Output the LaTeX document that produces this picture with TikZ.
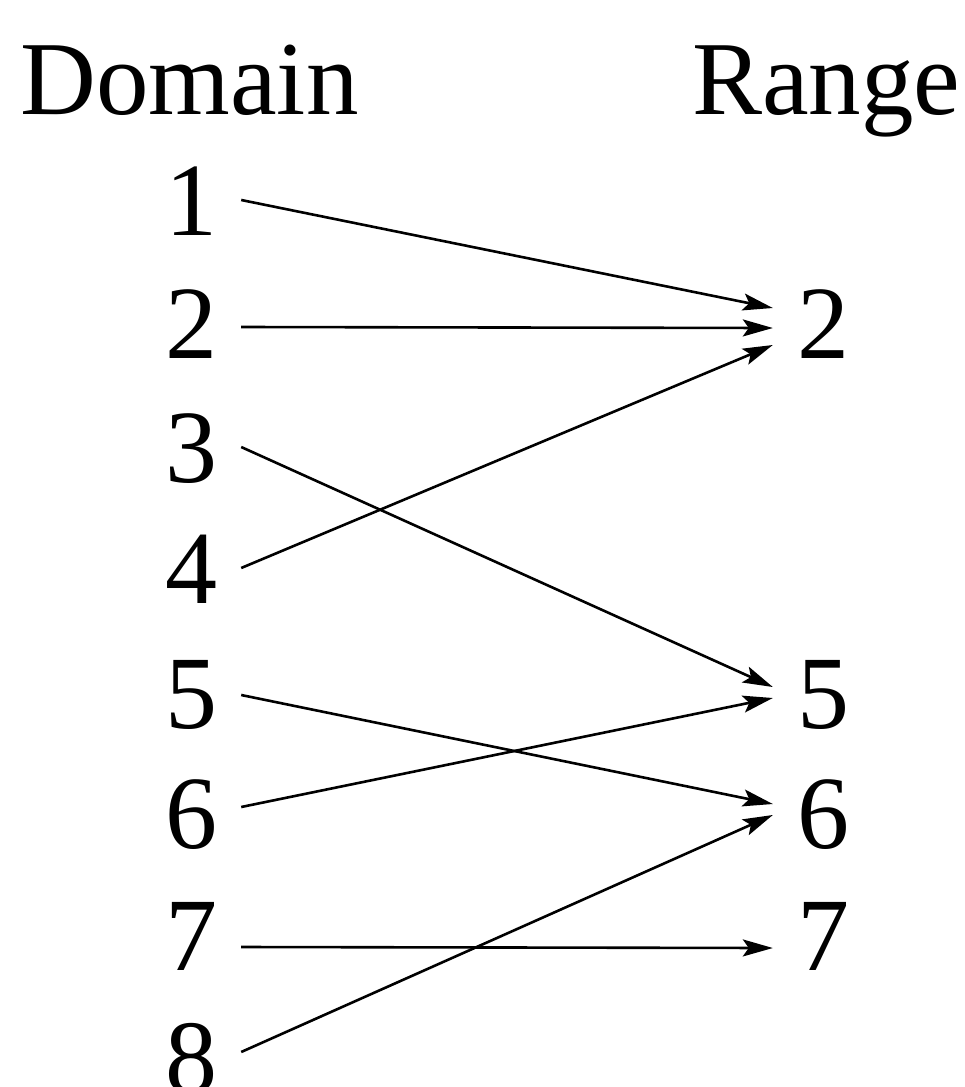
\documentclass[tikz,border=0pt]{standalone}
\usepackage{fontspec}
\setmainfont{Liberation Serif}
\usetikzlibrary{arrows.meta}
\begin{document}
\begin{tikzpicture}[x=1pt,y=-1pt,
  title/.style={inner sep=0pt,font=\fontsize{105}{105}\selectfont},
  num/.style={inner xsep=24pt,inner ysep=0pt,text height=70pt,text depth=0pt,anchor=base,font=\fontsize{104}{104}\selectfont},
  conn/.style={line width=2.6pt,-{Stealth[length=30pt,width=17pt,inset=6pt]}}]
\useasboundingbox (0,0) rectangle (964,1087);
\node[title,anchor=base west] (dom) at (20,114) {Domain};
\node[title,anchor=base west] (ran) at (692,114) {Range};
\node[num] (d1) at (191,235) {1};
\node[num] (d2) at (191,358) {2};
\node[num] (d3) at (191,482) {3};
\node[num] (d4) at (191,603) {4};
\node[num] (d5) at (191,728) {5};
\node[num] (d6) at (191,848) {6};
\node[num] (d7) at (191,970) {7};
\node[num] (d8) at (191,1092) {8};
\node[num] (r2) at (823,358) {2};
\node[num] (r5) at (823,728) {5};
\node[num] (r6) at (823,848) {6};
\node[num] (r7) at (823,970) {7};
\draw[conn] (d1.east) -- ([yshift=15pt]r2.west);
\draw[conn] ([yshift=-4pt]d2.east) -- ([yshift=-5pt]r2.west);
\draw[conn] (d4.east) -- ([yshift=-22pt]r2.west);
\draw[conn] (d3.east) -- ([yshift=6pt]r5.west);
\draw[conn] ([yshift=6pt]d6.east) -- ([yshift=-5pt]r5.west);
\draw[conn] ([yshift=-2pt]d5.east) -- ([yshift=9pt]r6.west);
\draw[conn] ([yshift=5pt]d8.east) -- ([yshift=-2pt]r6.west);
\draw[conn] ([yshift=-12pt]d7.east) -- ([yshift=-13pt]r7.west);
\end{tikzpicture}
\end{document}
